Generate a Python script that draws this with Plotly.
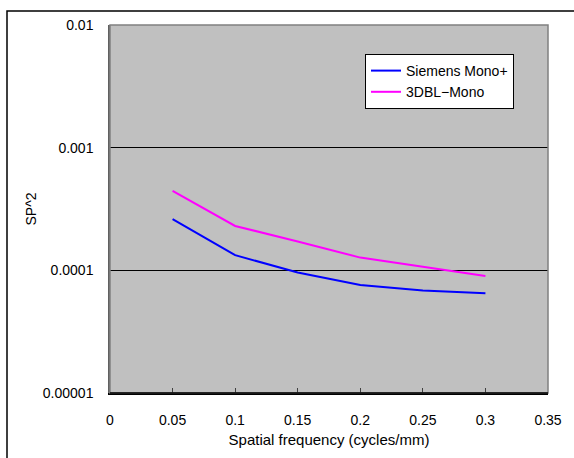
import plotly.graph_objects as go

freq = [0.05, 0.1, 0.15, 0.2, 0.25, 0.3]
siemens = [2.62e-4, 1.33e-4, 9.6e-5, 7.6e-5, 6.85e-5, 6.5e-5]
dbl = [4.44e-4, 2.30e-4, 1.72e-4, 1.27e-4, 1.07e-4, 9.0e-5]
ytick_vals = [1e-5, 1e-4, 1e-3, 1e-2]
ytick_text = ["0.00001", "0.0001", "0.001", "0.01"]
xtick_vals = [0, 0.05, 0.1, 0.15, 0.2, 0.25, 0.3, 0.35]
xtick_text = ["0", "0.05", "0.1", "0.15", "0.2", "0.25", "0.3", "0.35"]

W, H = 574, 458
L, R, T, B = 110, 26, 25, 65
pw, ph = W - L - R, H - T - B

font = "Liberation Sans, Arial, sans-serif"

fig = go.Figure()
fig.add_trace(go.Scatter(x=freq, y=siemens, mode="lines", name="Siemens Mono+",
                         line=dict(color="#0000FF", width=2)))
fig.add_trace(go.Scatter(x=freq, y=dbl, mode="lines", name="3DBL\u2212Mono",
                         line=dict(color="#FF00FF", width=2)))

fig.update_layout(
    width=W, height=H,
    margin=dict(l=L, r=R, t=T, b=B),
    paper_bgcolor="white",
    plot_bgcolor="#C0C0C0",
    font=dict(family=font, size=14, color="black"),
    showlegend=True,
    legend=dict(x=(365 - L) / pw, y=(H - B - 54) / ph, xanchor="left", yanchor="top",
                bgcolor="white", bordercolor="black", borderwidth=1,
                font=dict(size=14), itemwidth=30, tracegroupgap=0),
    xaxis=dict(range=[0, 0.35], tickvals=xtick_vals, ticktext=xtick_text,
               showgrid=False, zeroline=False, showline=True, linecolor="black", linewidth=1.5,
               ticks="inside", ticklen=5, tickcolor="#404040",
               ticklabelstandoff=13,
               title=dict(text="Spatial frequency (cycles/mm)", standoff=8, font=dict(size=15)),
               tickfont=dict(size=14)),
    yaxis=dict(type="log", range=[-5, -2], tickvals=ytick_vals, ticktext=ytick_text,
               showgrid=True, gridcolor="black", gridwidth=1, zeroline=False,
               showline=True, linecolor="#606060", linewidth=1.5,
               ticks="", ticklabelstandoff=12,
               title=dict(text="SP^2", standoff=3, font=dict(size=14)),
               tickfont=dict(size=14)),
    shapes=[
        dict(type="rect", xref="paper", yref="paper", x0=0, x1=1, y0=0, y1=1,
             line=dict(color="#808080", width=1.5), layer="above"),
        dict(type="line", xref="paper", yref="paper", x0=0, x1=1, y0=0, y1=0,
             line=dict(color="black", width=1.5), layer="above"),
        dict(type="rect", xref="paper", yref="paper",
             x0=(7 - L) / pw, x1=2, y0=-1, y1=(H - B - 11) / ph,
             line=dict(color="black", width=1.5), layer="below"),
    ],
)

fig.write_html("out.html")
